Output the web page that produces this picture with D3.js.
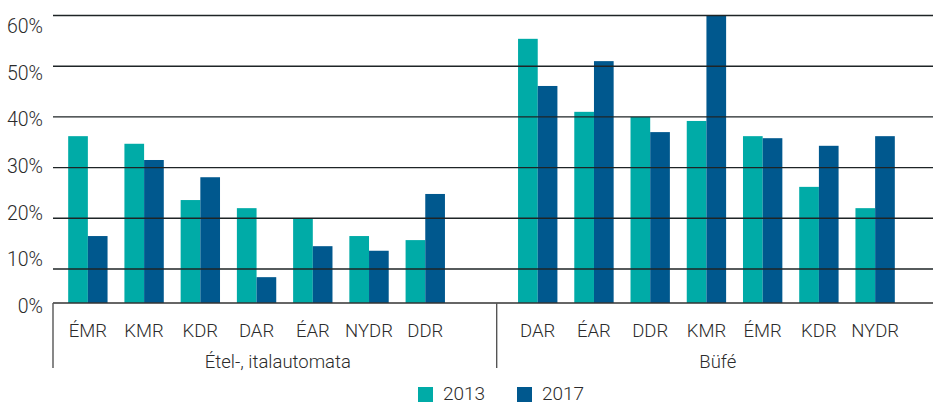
<!DOCTYPE html>
<html>
<head>
<meta charset="utf-8">
<script src="https://cdn.jsdelivr.net/npm/d3@7"></script>
<style>
  body { margin: 0; background: #fff; }
  text { font-family: Roboto, "Noto Sans", sans-serif; font-weight: 300; fill: #2b2b2b; }
</style>
</head>
<body>
<svg width="933" height="406"></svg>
<script>
const svg = d3.select("svg");
const width = +svg.attr("width");
const height = +svg.attr("height");

// data (percent)
const groups = ["Étel-, italautomata", "Büfé"];
const automataRegions = ["ÉMR", "KMR", "KDR", "DAR", "ÉAR", "NYDR", "DDR"];
const automata2013 = [36.2, 34.7, 23.6, 22.0, 19.9, 16.5, 15.7];
const automata2017 = [16.5, 31.5, 28.1, 7.6, 14.5, 13.6, 24.8];
const bufeRegions = ["DAR", "ÉAR", "DDR", "KMR", "ÉMR", "KDR", "NYDR"];
const bufe2013 = [55.4, 41.0, 40.0, 39.2, 36.2, 26.2, 22.0];
const bufe2017 = [46.1, 51.0, 37.0, 60.0, 35.8, 34.3, 36.2];
const years = ["2013", "2017"];
const yTicks = [0, 10, 20, 30, 40, 50, 60];

const colors = { "2013": "rgb(0,171,167)", "2017": "rgb(0,88,142)" };

const rows = [];
automataRegions.forEach((r, i) => rows.push({ key: "a|" + r, label: r, "2013": automata2013[i], "2017": automata2017[i] }));
rows.push({ key: "gap", label: "" });
bufeRegions.forEach((r, i) => rows.push({ key: "b|" + r, label: r, "2013": bufe2013[i], "2017": bufe2017[i] }));

const left = 53, right = width, baseY = 303;

const x0 = d3.scaleBand()
    .domain(rows.map(d => d.key))
    .range([left, 910])
    .paddingInner(0.3)
    .paddingOuter(0.27);

const x1 = d3.scaleBand()
    .domain(years)
    .range([0, x0.bandwidth()]);

// the original's value axis is not quite linear below 10%
const y = d3.scaleLinear()
    .domain([0, 10, 60])
    .range([baseY, 269, 15.5]);

// tick labels are spaced evenly, independent of the gridlines
const yLabel = d3.scaleLinear()
    .domain([0, 60])
    .range([306, 26]);

// bars
const bars = svg.append("g");
rows.filter(d => d.key !== "gap").forEach(d => {
    bars.selectAll(null)
        .data(years)
        .enter().append("rect")
        .attr("x", yr => x0(d.key) + x1(yr))
        .attr("y", yr => y(d[yr]))
        .attr("width", x1.bandwidth())
        .attr("height", yr => baseY - y(d[yr]))
        .style("fill", yr => colors[yr]);
});

// gridlines on top of the bars
svg.append("g").selectAll("line")
    .data(yTicks.filter(t => t > 0))
    .enter().append("line")
    .attr("x1", left)
    .attr("x2", right)
    .attr("y1", t => y(t))
    .attr("y2", t => y(t))
    .style("stroke", "#1e2426")
    .style("stroke-width", 1.4);

// y labels
svg.append("g").selectAll("text")
    .data(yTicks)
    .enter().append("text")
    .attr("x", 43)
    .attr("y", t => yLabel(t))
    .attr("dy", "0.36em")
    .attr("text-anchor", "end")
    .style("font-size", "19.5px")
    .text(t => t + "%");

// category axis
const sepX = x0("gap") + x0.step() * 0.62;
const axis = svg.append("g").style("stroke", "#555").style("stroke-width", 1.4);
axis.append("line").attr("x1", left).attr("x2", right).attr("y1", baseY).attr("y2", baseY).style("stroke", "#333");
[left, sepX].forEach(xv => {
    axis.append("line").attr("x1", xv).attr("x2", xv).attr("y1", baseY).attr("y2", 368);
});

svg.append("g").selectAll("text")
    .data(rows.filter(d => d.key !== "gap"))
    .enter().append("text")
    .attr("x", d => x0(d.key) + x0.bandwidth() / 2)
    .attr("y", 337)
    .attr("text-anchor", "middle")
    .style("font-size", "18.5px")
    .text(d => d.label);

const groupSpans = [[left, sepX], [sepX, right]];
svg.append("g").selectAll("text")
    .data(groups)
    .enter().append("text")
    .attr("x", (g, i) => (groupSpans[i][0] + groupSpans[i][1]) / 2 + 3)
    .attr("y", 368)
    .attr("text-anchor", "middle")
    .style("font-size", "18.5px")
    .text(g => g);

// legend (lifted slightly so the text is not cut at the bottom edge)
const legend = svg.append("g");
const legendX = [418, 517];
years.forEach((yr, i) => {
    legend.append("rect")
        .attr("x", legendX[i])
        .attr("y", 387)
        .attr("width", 15)
        .attr("height", 15)
        .style("fill", colors[yr]);
    legend.append("text")
        .attr("x", legendX[i] + 25)
        .attr("y", 400)
        .style("font-size", "19px")
        .text(yr);
});
</script>
</body>
</html>
